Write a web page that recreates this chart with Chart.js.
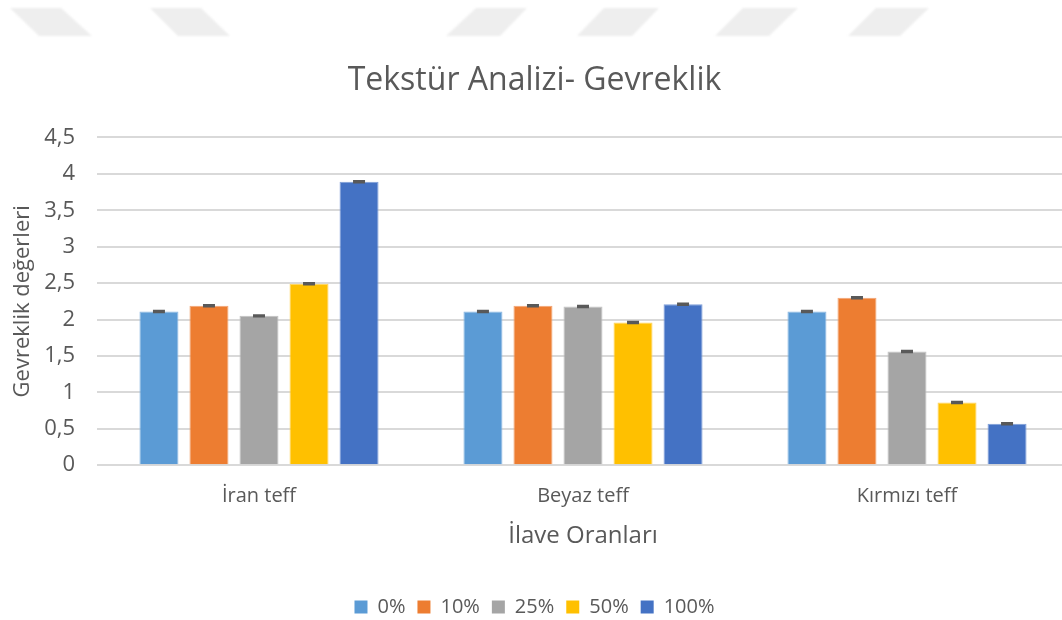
<!DOCTYPE html>
<html><head><meta charset="utf-8">
<script src="https://cdn.jsdelivr.net/npm/chart.js@4"></script>
<style>
html,body{margin:0;padding:0;background:#fff;overflow:hidden;}
#wrap{position:relative;width:1062px;height:620px;overflow:hidden;}
#bg{position:absolute;left:0;top:0;}
#c{position:absolute;left:0;top:0;}
</style></head><body>
<div id="wrap"><canvas id="bg" width="1062" height="620"></canvas><canvas id="c" width="1080" height="620"></canvas></div>
<script>
const categories = ["İran teff", "Beyaz teff", "Kırmızı teff"];
const seriesNames = ["0%", "10%", "25%", "50%", "100%"];
const v0 = [2.11, 2.11, 2.11];
const v10 = [2.19, 2.19, 2.30];
const v25 = [2.05, 2.18, 1.56];
const v50 = [2.49, 1.96, 0.86];
const v100 = [3.89, 2.21, 0.57];
const e0 = [0.01, 0.01, 0.01];
const e10 = [0.01, 0.01, 0.01];
const e25 = [0.01, 0.01, 0.01];
const e50 = [0.01, 0.01, 0.01];
const e100 = [0.01, 0.01, 0.01];
const colors = ["#5B9BD5", "#ED7D31", "#A5A5A5", "#FFC000", "#4472C4"];
const edgeColors = ["#8DB8E2", "#F2A474", "#C2C2C2", "#FFD45A", "#7E9ED8"];
const yTicks = [0, 0.5, 1, 1.5, 2, 2.5, 3, 3.5, 4, 4.5];

// background watermark stripes
(function(){
  const g = document.getElementById('bg').getContext('2d');
  g.fillStyle = '#eeeeee';
  g.filter = 'blur(1px)';
  const shapes = [[10,61,39,92],[150,201,178,230],[476,527,446,500],[604,659,577,632],[743,798,715,769],[876,929,848,900]];
  shapes.forEach(s=>{
    g.beginPath();
    g.moveTo(s[0],8);g.lineTo(s[1],8);g.lineTo(s[3],36);g.lineTo(s[2],36);g.closePath();g.fill();
  });
})();

const values = [v0, v10, v25, v50, v100];
const errors = [e0, e10, e25, e50, e100];
const FONT = "'Open Sans', sans-serif";
const TXT = "#595959";

const errorBars = {
  id: 'errorBars',
  afterDatasetsDraw(chart) {
    const ctx = chart.ctx, ys = chart.scales.y;
    ctx.save();
    ctx.strokeStyle = '#595959';
    ctx.lineWidth = 2;
    chart.data.datasets.forEach((ds, i) => {
      const meta = chart.getDatasetMeta(i);
      meta.data.forEach((bar, j) => {
        const v = ds.data[j], e = errors[i][j];
        const yt = ys.getPixelForValue(v + e), yb = ys.getPixelForValue(v - e);
        const x = bar.x, w = 6;
        ctx.beginPath();
        ctx.moveTo(x, yt); ctx.lineTo(x, yb);
        ctx.moveTo(x - w, yt); ctx.lineTo(x + w, yt);
        ctx.moveTo(x - w, yb); ctx.lineTo(x + w, yb);
        ctx.stroke();
      });
    });
    ctx.restore();
  }
};

new Chart(document.getElementById('c'), {
  type: 'bar',
  data: {
    labels: categories,
    datasets: seriesNames.map((n, i) => ({
      label: n, data: values[i], backgroundColor: colors[i],
      borderColor: edgeColors[i], borderWidth: 1,
      categoryPercentage: 0.772, barPercentage: 0.78
    }))
  },
  options: {
    responsive: false, animation: false,
    layout: { padding: { left: 0, right: 11, top: 0, bottom: -7 } },
    plugins: {
      title: { display: true, text: 'Tekstür Analizi- Gevreklik', color: TXT,
        font: { family: FONT, size: 32, weight: 'normal' }, padding: { top: 62, bottom: 37 } },
      legend: { position: 'bottom', labels: { color: TXT, font: { family: FONT, size: 20 },
        boxWidth: 13, boxHeight: 13, padding: 12,
        generateLabels(chart) {
          return chart.data.datasets.map((ds, i) => ({ text: ds.label, fillStyle: colors[i], strokeStyle: colors[i], lineWidth: 0, datasetIndex: i, fontColor: TXT }));
        } } },
      tooltip: { enabled: false }
    },
    scales: {
      x: {
        grid: { display: false },
        border: { display: false },
        ticks: { color: TXT, font: { family: FONT, size: 20 }, padding: 11 },
        title: { display: true, text: 'İlave Oranları', color: TXT, font: { family: FONT, size: 24 }, padding: { top: 3, bottom: 34 } }
      },
      y: {
        min: 0, max: 4.5,
        afterBuildTicks(s) { s.ticks = yTicks.map(v => ({ value: v })); },
        afterFit(s) { s.width = 97; },
        grid: { color: '#d9d9d9', lineWidth: 2, drawTicks: false },
        border: { display: false },
        ticks: { color: TXT, font: { family: FONT, size: 22 }, padding: 22,
          callback: v => String(v).replace('.', ',') },
        title: { display: true, text: 'Gevreklik değerleri', color: TXT, font: { family: FONT, size: 22 }, padding: { top: 10, bottom: 8 } }
      }
    }
  },
  plugins: [errorBars]
});
</script>
</body></html>
